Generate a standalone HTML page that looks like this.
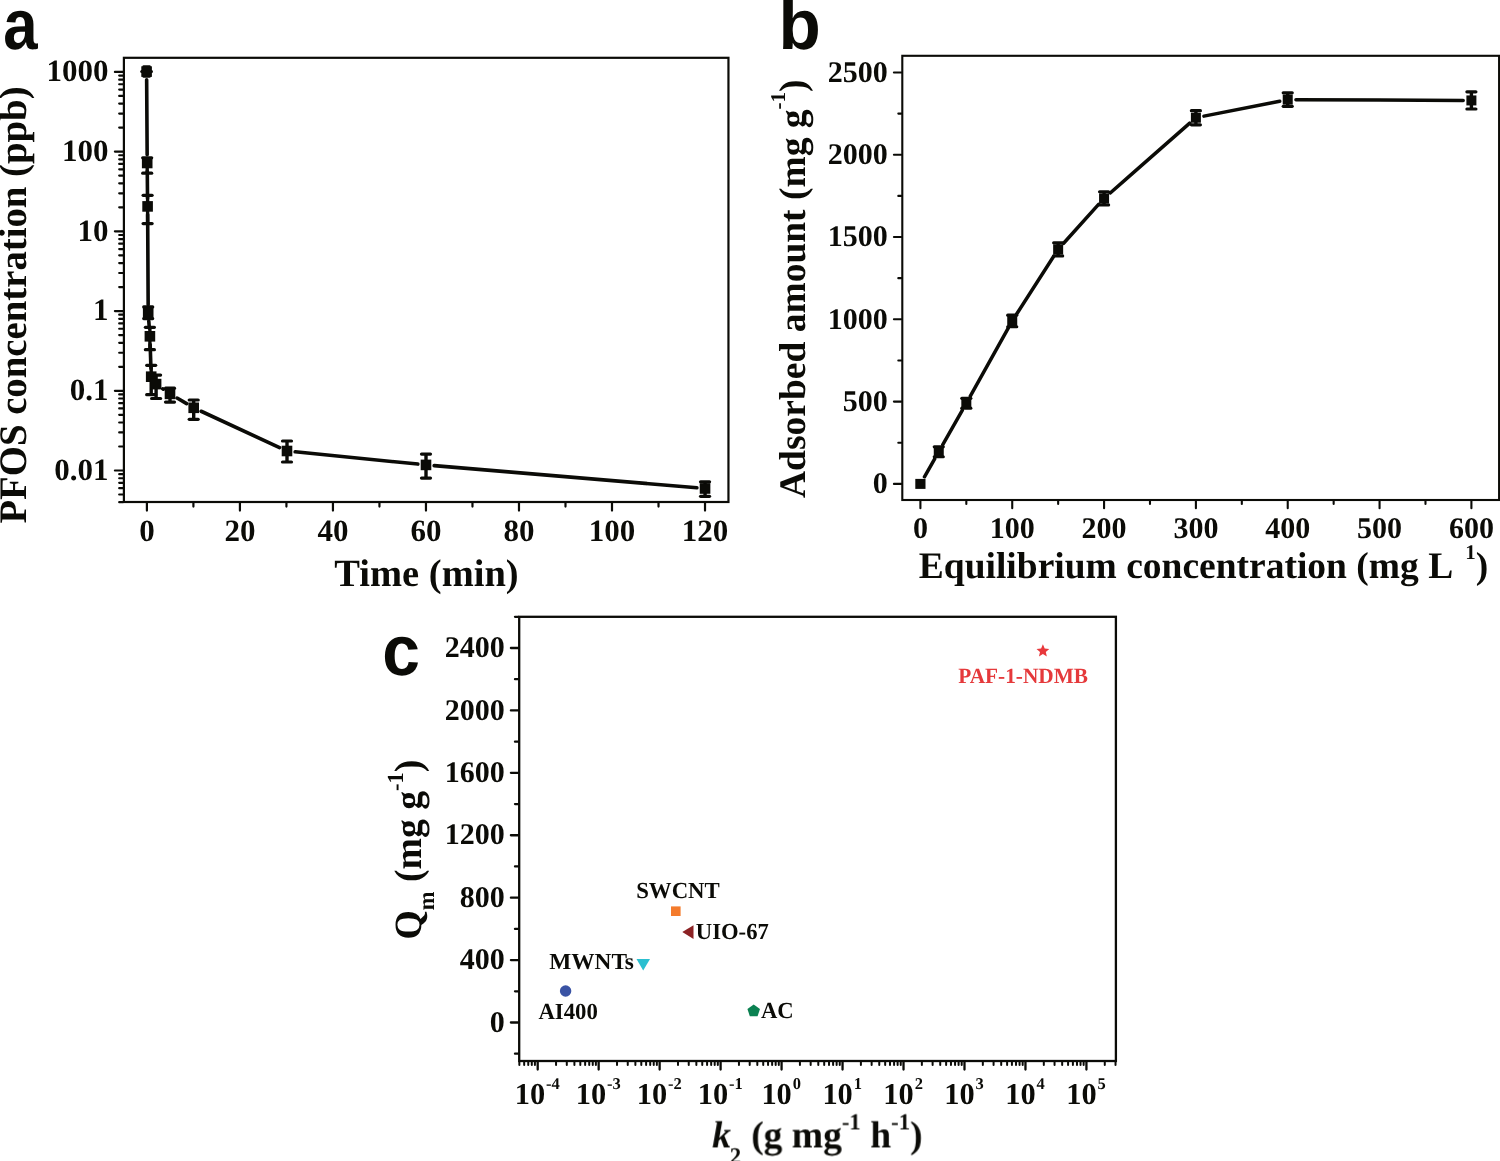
<!DOCTYPE html>
<html lang="en"><head><meta charset="utf-8"><title>PFOS adsorption figure</title>
<style>html,body{margin:0;padding:0;background:#fff}svg{display:block;will-change:transform;text-rendering:geometricPrecision}text{white-space:pre}</style>
</head><body>
<svg width="1500" height="1161" viewBox="0 0 1500 1161">
<defs><filter id="gray-aa" x="0" y="0" width="1500" height="1161" filterUnits="userSpaceOnUse" color-interpolation-filters="sRGB"><feOffset dx="0" dy="0"/></filter></defs>
<rect width="1500" height="1161" fill="#ffffff"/>
<g filter="url(#gray-aa)">
<g id="panel-a">
<rect x="123.9" y="57.8" width="604.55" height="444.2" fill="none" stroke="#0b0b07" stroke-width="2.2"/>
<line x1="119.2" y1="502.22" x2="122.9" y2="502.22" stroke="#0b0b07" stroke-width="2.2" stroke-linecap="round"/>
<line x1="119.2" y1="494.5" x2="122.9" y2="494.5" stroke="#0b0b07" stroke-width="2.2" stroke-linecap="round"/>
<line x1="119.2" y1="488.19" x2="122.9" y2="488.19" stroke="#0b0b07" stroke-width="2.2" stroke-linecap="round"/>
<line x1="119.2" y1="482.85" x2="122.9" y2="482.85" stroke="#0b0b07" stroke-width="2.2" stroke-linecap="round"/>
<line x1="119.2" y1="478.23" x2="122.9" y2="478.23" stroke="#0b0b07" stroke-width="2.2" stroke-linecap="round"/>
<line x1="119.2" y1="474.15" x2="122.9" y2="474.15" stroke="#0b0b07" stroke-width="2.2" stroke-linecap="round"/>
<line x1="114.9" y1="470.5" x2="122.9" y2="470.5" stroke="#0b0b07" stroke-width="2.2" stroke-linecap="round"/>
<line x1="119.2" y1="446.5" x2="122.9" y2="446.5" stroke="#0b0b07" stroke-width="2.2" stroke-linecap="round"/>
<line x1="119.2" y1="432.46" x2="122.9" y2="432.46" stroke="#0b0b07" stroke-width="2.2" stroke-linecap="round"/>
<line x1="119.2" y1="422.5" x2="122.9" y2="422.5" stroke="#0b0b07" stroke-width="2.2" stroke-linecap="round"/>
<line x1="119.2" y1="414.78" x2="122.9" y2="414.78" stroke="#0b0b07" stroke-width="2.2" stroke-linecap="round"/>
<line x1="119.2" y1="408.47" x2="122.9" y2="408.47" stroke="#0b0b07" stroke-width="2.2" stroke-linecap="round"/>
<line x1="119.2" y1="403.13" x2="122.9" y2="403.13" stroke="#0b0b07" stroke-width="2.2" stroke-linecap="round"/>
<line x1="119.2" y1="398.51" x2="122.9" y2="398.51" stroke="#0b0b07" stroke-width="2.2" stroke-linecap="round"/>
<line x1="119.2" y1="394.43" x2="122.9" y2="394.43" stroke="#0b0b07" stroke-width="2.2" stroke-linecap="round"/>
<line x1="114.9" y1="390.78" x2="122.9" y2="390.78" stroke="#0b0b07" stroke-width="2.2" stroke-linecap="round"/>
<line x1="119.2" y1="366.78" x2="122.9" y2="366.78" stroke="#0b0b07" stroke-width="2.2" stroke-linecap="round"/>
<line x1="119.2" y1="352.74" x2="122.9" y2="352.74" stroke="#0b0b07" stroke-width="2.2" stroke-linecap="round"/>
<line x1="119.2" y1="342.78" x2="122.9" y2="342.78" stroke="#0b0b07" stroke-width="2.2" stroke-linecap="round"/>
<line x1="119.2" y1="335.06" x2="122.9" y2="335.06" stroke="#0b0b07" stroke-width="2.2" stroke-linecap="round"/>
<line x1="119.2" y1="328.75" x2="122.9" y2="328.75" stroke="#0b0b07" stroke-width="2.2" stroke-linecap="round"/>
<line x1="119.2" y1="323.41" x2="122.9" y2="323.41" stroke="#0b0b07" stroke-width="2.2" stroke-linecap="round"/>
<line x1="119.2" y1="318.79" x2="122.9" y2="318.79" stroke="#0b0b07" stroke-width="2.2" stroke-linecap="round"/>
<line x1="119.2" y1="314.71" x2="122.9" y2="314.71" stroke="#0b0b07" stroke-width="2.2" stroke-linecap="round"/>
<line x1="114.9" y1="311.06" x2="122.9" y2="311.06" stroke="#0b0b07" stroke-width="2.2" stroke-linecap="round"/>
<line x1="119.2" y1="287.06" x2="122.9" y2="287.06" stroke="#0b0b07" stroke-width="2.2" stroke-linecap="round"/>
<line x1="119.2" y1="273.02" x2="122.9" y2="273.02" stroke="#0b0b07" stroke-width="2.2" stroke-linecap="round"/>
<line x1="119.2" y1="263.06" x2="122.9" y2="263.06" stroke="#0b0b07" stroke-width="2.2" stroke-linecap="round"/>
<line x1="119.2" y1="255.34" x2="122.9" y2="255.34" stroke="#0b0b07" stroke-width="2.2" stroke-linecap="round"/>
<line x1="119.2" y1="249.03" x2="122.9" y2="249.03" stroke="#0b0b07" stroke-width="2.2" stroke-linecap="round"/>
<line x1="119.2" y1="243.69" x2="122.9" y2="243.69" stroke="#0b0b07" stroke-width="2.2" stroke-linecap="round"/>
<line x1="119.2" y1="239.07" x2="122.9" y2="239.07" stroke="#0b0b07" stroke-width="2.2" stroke-linecap="round"/>
<line x1="119.2" y1="234.99" x2="122.9" y2="234.99" stroke="#0b0b07" stroke-width="2.2" stroke-linecap="round"/>
<line x1="114.9" y1="231.34" x2="122.9" y2="231.34" stroke="#0b0b07" stroke-width="2.2" stroke-linecap="round"/>
<line x1="119.2" y1="207.34" x2="122.9" y2="207.34" stroke="#0b0b07" stroke-width="2.2" stroke-linecap="round"/>
<line x1="119.2" y1="193.3" x2="122.9" y2="193.3" stroke="#0b0b07" stroke-width="2.2" stroke-linecap="round"/>
<line x1="119.2" y1="183.34" x2="122.9" y2="183.34" stroke="#0b0b07" stroke-width="2.2" stroke-linecap="round"/>
<line x1="119.2" y1="175.62" x2="122.9" y2="175.62" stroke="#0b0b07" stroke-width="2.2" stroke-linecap="round"/>
<line x1="119.2" y1="169.31" x2="122.9" y2="169.31" stroke="#0b0b07" stroke-width="2.2" stroke-linecap="round"/>
<line x1="119.2" y1="163.97" x2="122.9" y2="163.97" stroke="#0b0b07" stroke-width="2.2" stroke-linecap="round"/>
<line x1="119.2" y1="159.35" x2="122.9" y2="159.35" stroke="#0b0b07" stroke-width="2.2" stroke-linecap="round"/>
<line x1="119.2" y1="155.27" x2="122.9" y2="155.27" stroke="#0b0b07" stroke-width="2.2" stroke-linecap="round"/>
<line x1="114.9" y1="151.62" x2="122.9" y2="151.62" stroke="#0b0b07" stroke-width="2.2" stroke-linecap="round"/>
<line x1="119.2" y1="127.62" x2="122.9" y2="127.62" stroke="#0b0b07" stroke-width="2.2" stroke-linecap="round"/>
<line x1="119.2" y1="113.58" x2="122.9" y2="113.58" stroke="#0b0b07" stroke-width="2.2" stroke-linecap="round"/>
<line x1="119.2" y1="103.62" x2="122.9" y2="103.62" stroke="#0b0b07" stroke-width="2.2" stroke-linecap="round"/>
<line x1="119.2" y1="95.9" x2="122.9" y2="95.9" stroke="#0b0b07" stroke-width="2.2" stroke-linecap="round"/>
<line x1="119.2" y1="89.59" x2="122.9" y2="89.59" stroke="#0b0b07" stroke-width="2.2" stroke-linecap="round"/>
<line x1="119.2" y1="84.25" x2="122.9" y2="84.25" stroke="#0b0b07" stroke-width="2.2" stroke-linecap="round"/>
<line x1="119.2" y1="79.63" x2="122.9" y2="79.63" stroke="#0b0b07" stroke-width="2.2" stroke-linecap="round"/>
<line x1="119.2" y1="75.55" x2="122.9" y2="75.55" stroke="#0b0b07" stroke-width="2.2" stroke-linecap="round"/>
<line x1="114.9" y1="71.9" x2="122.9" y2="71.9" stroke="#0b0b07" stroke-width="2.2" stroke-linecap="round"/>
<text transform="translate(108.5 81.2) scale(1.0000 1)" font-family='"Liberation Serif","DejaVu Serif",serif' font-size="31" font-weight="bold" text-anchor="end" fill="#0b0b07">1000</text>
<text transform="translate(108.5 160.92) scale(1.0000 1)" font-family='"Liberation Serif","DejaVu Serif",serif' font-size="31" font-weight="bold" text-anchor="end" fill="#0b0b07">100</text>
<text transform="translate(108.5 240.64) scale(1.0000 1)" font-family='"Liberation Serif","DejaVu Serif",serif' font-size="31" font-weight="bold" text-anchor="end" fill="#0b0b07">10</text>
<text transform="translate(108.5 320.36) scale(1.0000 1)" font-family='"Liberation Serif","DejaVu Serif",serif' font-size="31" font-weight="bold" text-anchor="end" fill="#0b0b07">1</text>
<text transform="translate(108.5 400.08) scale(1.0000 1)" font-family='"Liberation Serif","DejaVu Serif",serif' font-size="31" font-weight="bold" text-anchor="end" fill="#0b0b07">0.1</text>
<text transform="translate(108.5 479.8) scale(1.0000 1)" font-family='"Liberation Serif","DejaVu Serif",serif' font-size="31" font-weight="bold" text-anchor="end" fill="#0b0b07">0.01</text>
<line x1="146.9" y1="503" x2="146.9" y2="510.6" stroke="#0b0b07" stroke-width="2.2" stroke-linecap="round"/>
<text transform="translate(146.9 541.2) scale(1.0000 1)" font-family='"Liberation Serif","DejaVu Serif",serif' font-size="31" font-weight="bold" text-anchor="middle" fill="#0b0b07">0</text>
<line x1="193.41" y1="503" x2="193.41" y2="506.6" stroke="#0b0b07" stroke-width="2.2" stroke-linecap="round"/>
<line x1="239.92" y1="503" x2="239.92" y2="510.6" stroke="#0b0b07" stroke-width="2.2" stroke-linecap="round"/>
<text transform="translate(239.92 541.2) scale(1.0000 1)" font-family='"Liberation Serif","DejaVu Serif",serif' font-size="31" font-weight="bold" text-anchor="middle" fill="#0b0b07">20</text>
<line x1="286.43" y1="503" x2="286.43" y2="506.6" stroke="#0b0b07" stroke-width="2.2" stroke-linecap="round"/>
<line x1="332.94" y1="503" x2="332.94" y2="510.6" stroke="#0b0b07" stroke-width="2.2" stroke-linecap="round"/>
<text transform="translate(332.94 541.2) scale(1.0000 1)" font-family='"Liberation Serif","DejaVu Serif",serif' font-size="31" font-weight="bold" text-anchor="middle" fill="#0b0b07">40</text>
<line x1="379.45" y1="503" x2="379.45" y2="506.6" stroke="#0b0b07" stroke-width="2.2" stroke-linecap="round"/>
<line x1="425.96" y1="503" x2="425.96" y2="510.6" stroke="#0b0b07" stroke-width="2.2" stroke-linecap="round"/>
<text transform="translate(425.96 541.2) scale(1.0000 1)" font-family='"Liberation Serif","DejaVu Serif",serif' font-size="31" font-weight="bold" text-anchor="middle" fill="#0b0b07">60</text>
<line x1="472.47" y1="503" x2="472.47" y2="506.6" stroke="#0b0b07" stroke-width="2.2" stroke-linecap="round"/>
<line x1="518.98" y1="503" x2="518.98" y2="510.6" stroke="#0b0b07" stroke-width="2.2" stroke-linecap="round"/>
<text transform="translate(518.98 541.2) scale(1.0000 1)" font-family='"Liberation Serif","DejaVu Serif",serif' font-size="31" font-weight="bold" text-anchor="middle" fill="#0b0b07">80</text>
<line x1="565.49" y1="503" x2="565.49" y2="506.6" stroke="#0b0b07" stroke-width="2.2" stroke-linecap="round"/>
<line x1="612" y1="503" x2="612" y2="510.6" stroke="#0b0b07" stroke-width="2.2" stroke-linecap="round"/>
<text transform="translate(612 541.2) scale(1.0000 1)" font-family='"Liberation Serif","DejaVu Serif",serif' font-size="31" font-weight="bold" text-anchor="middle" fill="#0b0b07">100</text>
<line x1="658.51" y1="503" x2="658.51" y2="506.6" stroke="#0b0b07" stroke-width="2.2" stroke-linecap="round"/>
<line x1="705.02" y1="503" x2="705.02" y2="510.6" stroke="#0b0b07" stroke-width="2.2" stroke-linecap="round"/>
<text transform="translate(705.02 541.2) scale(1.0000 1)" font-family='"Liberation Serif","DejaVu Serif",serif' font-size="31" font-weight="bold" text-anchor="middle" fill="#0b0b07">120</text>
<text transform="translate(426.5 586) scale(1.0000 1)" font-family='"Liberation Serif","DejaVu Serif",serif' font-size="38.5" font-weight="bold" text-anchor="middle" fill="#0b0b07">Time (min)</text>
<text transform="translate(26.4 305) rotate(-90) scale(0.9940 1)" font-family='"Liberation Serif","DejaVu Serif",serif' font-size="39" font-weight="bold" text-anchor="middle" fill="#0b0b07">PFOS concentration (ppb)</text>
<path fill="none" stroke="#0b0b07" stroke-width="3.6" stroke-linecap="round" d="M146.65 79.8L147.15 154.8M147.28 171.2L147.52 198.2M147.65 214.6L148.15 304.7M148.79 321.08L149.31 328.12M150.16 344.5L150.94 368.5M162.8 388.83L163.3 389.17M177.07 398.05L186.63 403.65M201.14 411.25L279.56 447.55M295.16 451.82L417.84 464.08M434.17 465.59L696.88 487.81"/>
<line x1="146.6" y1="66.4" x2="146.6" y2="76.6" stroke="#0b0b07" stroke-width="3.2" stroke-linecap="butt"/>
<line x1="143.6" y1="66.4" x2="149.6" y2="66.4" stroke="#0b0b07" stroke-width="2.4" stroke-linecap="round"/>
<line x1="143.6" y1="76.6" x2="149.6" y2="76.6" stroke="#0b0b07" stroke-width="2.4" stroke-linecap="round"/>
<rect x="141.3" y="66.3" width="10.6" height="10.6" fill="#0b0b07"/>
<line x1="141.7" y1="71.6" x2="151.5" y2="71.6" stroke="#0b0b07" stroke-width="3" stroke-linecap="round"/>
<line x1="147.2" y1="157.8" x2="147.2" y2="173.2" stroke="#0b0b07" stroke-width="3.4" stroke-linecap="butt"/>
<line x1="142.7" y1="157.8" x2="151.7" y2="157.8" stroke="#0b0b07" stroke-width="3.2" stroke-linecap="round"/>
<line x1="142.7" y1="173.2" x2="151.7" y2="173.2" stroke="#0b0b07" stroke-width="3.2" stroke-linecap="round"/>
<rect x="141.9" y="157.7" width="10.6" height="10.6" fill="#0b0b07"/>
<line x1="147.6" y1="195.3" x2="147.6" y2="223.6" stroke="#0b0b07" stroke-width="3.4" stroke-linecap="butt"/>
<line x1="143.1" y1="195.3" x2="152.1" y2="195.3" stroke="#0b0b07" stroke-width="3.2" stroke-linecap="round"/>
<line x1="143.1" y1="223.6" x2="152.1" y2="223.6" stroke="#0b0b07" stroke-width="3.2" stroke-linecap="round"/>
<rect x="142.3" y="201.1" width="10.6" height="10.6" fill="#0b0b07"/>
<line x1="148.2" y1="306.9" x2="148.2" y2="318.6" stroke="#0b0b07" stroke-width="3.4" stroke-linecap="butt"/>
<line x1="143.7" y1="306.9" x2="152.7" y2="306.9" stroke="#0b0b07" stroke-width="3.2" stroke-linecap="round"/>
<line x1="143.7" y1="318.6" x2="152.7" y2="318.6" stroke="#0b0b07" stroke-width="3.2" stroke-linecap="round"/>
<rect x="142.9" y="307.6" width="10.6" height="10.6" fill="#0b0b07"/>
<line x1="149.9" y1="327.3" x2="149.9" y2="349.7" stroke="#0b0b07" stroke-width="3.4" stroke-linecap="butt"/>
<line x1="145.4" y1="327.3" x2="154.4" y2="327.3" stroke="#0b0b07" stroke-width="3.2" stroke-linecap="round"/>
<line x1="145.4" y1="349.7" x2="154.4" y2="349.7" stroke="#0b0b07" stroke-width="3.2" stroke-linecap="round"/>
<rect x="144.6" y="331" width="10.6" height="10.6" fill="#0b0b07"/>
<line x1="151.2" y1="365.3" x2="151.2" y2="394.7" stroke="#0b0b07" stroke-width="3.4" stroke-linecap="butt"/>
<line x1="146.7" y1="365.3" x2="155.7" y2="365.3" stroke="#0b0b07" stroke-width="3.2" stroke-linecap="round"/>
<line x1="146.7" y1="394.7" x2="155.7" y2="394.7" stroke="#0b0b07" stroke-width="3.2" stroke-linecap="round"/>
<rect x="145.9" y="371.4" width="10.6" height="10.6" fill="#0b0b07"/>
<line x1="156.1" y1="375.1" x2="156.1" y2="398.5" stroke="#0b0b07" stroke-width="3.4" stroke-linecap="butt"/>
<line x1="151.6" y1="375.1" x2="160.6" y2="375.1" stroke="#0b0b07" stroke-width="3.2" stroke-linecap="round"/>
<line x1="151.6" y1="398.5" x2="160.6" y2="398.5" stroke="#0b0b07" stroke-width="3.2" stroke-linecap="round"/>
<rect x="150.8" y="378.8" width="10.6" height="10.6" fill="#0b0b07"/>
<line x1="170" y1="388.2" x2="170" y2="402.1" stroke="#0b0b07" stroke-width="3.4" stroke-linecap="butt"/>
<line x1="165.5" y1="388.2" x2="174.5" y2="388.2" stroke="#0b0b07" stroke-width="3.2" stroke-linecap="round"/>
<line x1="165.5" y1="402.1" x2="174.5" y2="402.1" stroke="#0b0b07" stroke-width="3.2" stroke-linecap="round"/>
<rect x="164.7" y="388.6" width="10.6" height="10.6" fill="#0b0b07"/>
<line x1="193.7" y1="400" x2="193.7" y2="419.3" stroke="#0b0b07" stroke-width="3.4" stroke-linecap="butt"/>
<line x1="189.2" y1="400" x2="198.2" y2="400" stroke="#0b0b07" stroke-width="3.2" stroke-linecap="round"/>
<line x1="189.2" y1="419.3" x2="198.2" y2="419.3" stroke="#0b0b07" stroke-width="3.2" stroke-linecap="round"/>
<rect x="188.4" y="402.5" width="10.6" height="10.6" fill="#0b0b07"/>
<line x1="287" y1="441" x2="287" y2="462" stroke="#0b0b07" stroke-width="3.4" stroke-linecap="butt"/>
<line x1="282.5" y1="441" x2="291.5" y2="441" stroke="#0b0b07" stroke-width="3.2" stroke-linecap="round"/>
<line x1="282.5" y1="462" x2="291.5" y2="462" stroke="#0b0b07" stroke-width="3.2" stroke-linecap="round"/>
<rect x="281.7" y="445.7" width="10.6" height="10.6" fill="#0b0b07"/>
<line x1="426" y1="454.1" x2="426" y2="478.1" stroke="#0b0b07" stroke-width="3.4" stroke-linecap="butt"/>
<line x1="421.5" y1="454.1" x2="430.5" y2="454.1" stroke="#0b0b07" stroke-width="3.2" stroke-linecap="round"/>
<line x1="421.5" y1="478.1" x2="430.5" y2="478.1" stroke="#0b0b07" stroke-width="3.2" stroke-linecap="round"/>
<rect x="420.7" y="459.6" width="10.6" height="10.6" fill="#0b0b07"/>
<line x1="705.05" y1="481.8" x2="705.05" y2="496.3" stroke="#0b0b07" stroke-width="3.4" stroke-linecap="butt"/>
<line x1="700.55" y1="481.8" x2="709.55" y2="481.8" stroke="#0b0b07" stroke-width="3.2" stroke-linecap="round"/>
<line x1="700.55" y1="496.3" x2="709.55" y2="496.3" stroke="#0b0b07" stroke-width="3.2" stroke-linecap="round"/>
<rect x="699.75" y="483.2" width="10.6" height="10.6" fill="#0b0b07"/>
<text transform="translate(3.2 49) scale(0.8700 1)" font-family='"Liberation Sans","DejaVu Sans",sans-serif' font-size="71" font-weight="bold" text-anchor="start" fill="#0b0b07">a</text>
</g>
<g id="panel-b">
<rect x="902.3" y="55.8" width="596.8" height="444.2" fill="none" stroke="#0b0b07" stroke-width="2.1"/>
<line x1="893.9" y1="483.9" x2="901.3" y2="483.9" stroke="#0b0b07" stroke-width="2.1" stroke-linecap="round"/>
<text transform="translate(887.8 493.1) scale(1.0000 1)" font-family='"Liberation Serif","DejaVu Serif",serif' font-size="30" font-weight="bold" text-anchor="end" fill="#0b0b07">0</text>
<line x1="898.3" y1="442.75" x2="901.3" y2="442.75" stroke="#0b0b07" stroke-width="2.1" stroke-linecap="round"/>
<line x1="893.9" y1="401.61" x2="901.3" y2="401.61" stroke="#0b0b07" stroke-width="2.1" stroke-linecap="round"/>
<text transform="translate(887.8 410.81) scale(1.0000 1)" font-family='"Liberation Serif","DejaVu Serif",serif' font-size="30" font-weight="bold" text-anchor="end" fill="#0b0b07">500</text>
<line x1="898.3" y1="360.46" x2="901.3" y2="360.46" stroke="#0b0b07" stroke-width="2.1" stroke-linecap="round"/>
<line x1="893.9" y1="319.32" x2="901.3" y2="319.32" stroke="#0b0b07" stroke-width="2.1" stroke-linecap="round"/>
<text transform="translate(887.8 328.52) scale(1.0000 1)" font-family='"Liberation Serif","DejaVu Serif",serif' font-size="30" font-weight="bold" text-anchor="end" fill="#0b0b07">1000</text>
<line x1="898.3" y1="278.17" x2="901.3" y2="278.17" stroke="#0b0b07" stroke-width="2.1" stroke-linecap="round"/>
<line x1="893.9" y1="237.03" x2="901.3" y2="237.03" stroke="#0b0b07" stroke-width="2.1" stroke-linecap="round"/>
<text transform="translate(887.8 246.23) scale(1.0000 1)" font-family='"Liberation Serif","DejaVu Serif",serif' font-size="30" font-weight="bold" text-anchor="end" fill="#0b0b07">1500</text>
<line x1="898.3" y1="195.88" x2="901.3" y2="195.88" stroke="#0b0b07" stroke-width="2.1" stroke-linecap="round"/>
<line x1="893.9" y1="154.74" x2="901.3" y2="154.74" stroke="#0b0b07" stroke-width="2.1" stroke-linecap="round"/>
<text transform="translate(887.8 163.94) scale(1.0000 1)" font-family='"Liberation Serif","DejaVu Serif",serif' font-size="30" font-weight="bold" text-anchor="end" fill="#0b0b07">2000</text>
<line x1="898.3" y1="113.59" x2="901.3" y2="113.59" stroke="#0b0b07" stroke-width="2.1" stroke-linecap="round"/>
<line x1="893.9" y1="72.45" x2="901.3" y2="72.45" stroke="#0b0b07" stroke-width="2.1" stroke-linecap="round"/>
<text transform="translate(887.8 81.65) scale(1.0000 1)" font-family='"Liberation Serif","DejaVu Serif",serif' font-size="30" font-weight="bold" text-anchor="end" fill="#0b0b07">2500</text>
<line x1="920.4" y1="501" x2="920.4" y2="508.3" stroke="#0b0b07" stroke-width="2.1" stroke-linecap="round"/>
<text transform="translate(920.4 537.8) scale(1.0000 1)" font-family='"Liberation Serif","DejaVu Serif",serif' font-size="30" font-weight="bold" text-anchor="middle" fill="#0b0b07">0</text>
<line x1="966.32" y1="501" x2="966.32" y2="504" stroke="#0b0b07" stroke-width="2.1" stroke-linecap="round"/>
<line x1="1012.23" y1="501" x2="1012.23" y2="508.3" stroke="#0b0b07" stroke-width="2.1" stroke-linecap="round"/>
<text transform="translate(1012.23 537.8) scale(1.0000 1)" font-family='"Liberation Serif","DejaVu Serif",serif' font-size="30" font-weight="bold" text-anchor="middle" fill="#0b0b07">100</text>
<line x1="1058.15" y1="501" x2="1058.15" y2="504" stroke="#0b0b07" stroke-width="2.1" stroke-linecap="round"/>
<line x1="1104.07" y1="501" x2="1104.07" y2="508.3" stroke="#0b0b07" stroke-width="2.1" stroke-linecap="round"/>
<text transform="translate(1104.07 537.8) scale(1.0000 1)" font-family='"Liberation Serif","DejaVu Serif",serif' font-size="30" font-weight="bold" text-anchor="middle" fill="#0b0b07">200</text>
<line x1="1149.98" y1="501" x2="1149.98" y2="504" stroke="#0b0b07" stroke-width="2.1" stroke-linecap="round"/>
<line x1="1195.9" y1="501" x2="1195.9" y2="508.3" stroke="#0b0b07" stroke-width="2.1" stroke-linecap="round"/>
<text transform="translate(1195.9 537.8) scale(1.0000 1)" font-family='"Liberation Serif","DejaVu Serif",serif' font-size="30" font-weight="bold" text-anchor="middle" fill="#0b0b07">300</text>
<line x1="1241.82" y1="501" x2="1241.82" y2="504" stroke="#0b0b07" stroke-width="2.1" stroke-linecap="round"/>
<line x1="1287.73" y1="501" x2="1287.73" y2="508.3" stroke="#0b0b07" stroke-width="2.1" stroke-linecap="round"/>
<text transform="translate(1287.73 537.8) scale(1.0000 1)" font-family='"Liberation Serif","DejaVu Serif",serif' font-size="30" font-weight="bold" text-anchor="middle" fill="#0b0b07">400</text>
<line x1="1333.65" y1="501" x2="1333.65" y2="504" stroke="#0b0b07" stroke-width="2.1" stroke-linecap="round"/>
<line x1="1379.57" y1="501" x2="1379.57" y2="508.3" stroke="#0b0b07" stroke-width="2.1" stroke-linecap="round"/>
<text transform="translate(1379.57 537.8) scale(1.0000 1)" font-family='"Liberation Serif","DejaVu Serif",serif' font-size="30" font-weight="bold" text-anchor="middle" fill="#0b0b07">500</text>
<line x1="1425.48" y1="501" x2="1425.48" y2="504" stroke="#0b0b07" stroke-width="2.1" stroke-linecap="round"/>
<line x1="1471.4" y1="501" x2="1471.4" y2="508.3" stroke="#0b0b07" stroke-width="2.1" stroke-linecap="round"/>
<text transform="translate(1471.4 537.8) scale(1.0000 1)" font-family='"Liberation Serif","DejaVu Serif",serif' font-size="30" font-weight="bold" text-anchor="middle" fill="#0b0b07">600</text>
<text transform="translate(918.8 578) scale(1.0000 1)" font-family='"Liberation Serif","DejaVu Serif",serif' font-size="37.5" font-weight="bold" text-anchor="start" fill="#0b0b07">Equilibrium concentration (mg L<tspan font-size="21" dy="-19" dx="1.5">&#160;&#160;1</tspan><tspan dy="19">)</tspan></text>
<text transform="translate(805.3 498) rotate(-90) scale(1.0000 1)" font-family='"Liberation Serif","DejaVu Serif",serif' font-size="37.5" font-weight="bold" text-anchor="start" fill="#0b0b07">Adsorbed amount (mg g<tspan font-size="21" dy="-20">-1</tspan><tspan dy="20">)</tspan></text>
<path fill="none" stroke="#0b0b07" stroke-width="3.5" stroke-linecap="round" d="M924.47 476.78L934.69 458.92M942.81 444.68L962.27 410.39M970.31 396.1L1008.24 328.13M1016.66 314.06L1053.72 256.28M1063.63 243.28L1098.58 204.45M1110.23 192.94L1189.74 123.12M1203.94 116.12L1279.69 101.19M1295.93 99.64L1463.2 100.39"/>
<rect x="915.3" y="478.9" width="10.2" height="10" fill="#0b0b07"/>
<line x1="938.77" y1="446.87" x2="938.77" y2="456.74" stroke="#0b0b07" stroke-width="3.4" stroke-linecap="butt"/>
<line x1="934.27" y1="446.87" x2="943.27" y2="446.87" stroke="#0b0b07" stroke-width="3.2" stroke-linecap="round"/>
<line x1="934.27" y1="456.74" x2="943.27" y2="456.74" stroke="#0b0b07" stroke-width="3.2" stroke-linecap="round"/>
<rect x="933.77" y="446.81" width="10" height="10" fill="#0b0b07"/>
<line x1="966.32" y1="398.32" x2="966.32" y2="408.19" stroke="#0b0b07" stroke-width="3.4" stroke-linecap="butt"/>
<line x1="961.82" y1="398.32" x2="970.82" y2="398.32" stroke="#0b0b07" stroke-width="3.2" stroke-linecap="round"/>
<line x1="961.82" y1="408.19" x2="970.82" y2="408.19" stroke="#0b0b07" stroke-width="3.2" stroke-linecap="round"/>
<rect x="961.32" y="398.26" width="10" height="10" fill="#0b0b07"/>
<line x1="1012.23" y1="315.21" x2="1012.23" y2="326.73" stroke="#0b0b07" stroke-width="3.4" stroke-linecap="butt"/>
<line x1="1007.73" y1="315.21" x2="1016.73" y2="315.21" stroke="#0b0b07" stroke-width="3.2" stroke-linecap="round"/>
<line x1="1007.73" y1="326.73" x2="1016.73" y2="326.73" stroke="#0b0b07" stroke-width="3.2" stroke-linecap="round"/>
<rect x="1007.23" y="315.97" width="10" height="10" fill="#0b0b07"/>
<line x1="1058.15" y1="242.79" x2="1058.15" y2="255.96" stroke="#0b0b07" stroke-width="3.4" stroke-linecap="butt"/>
<line x1="1053.65" y1="242.79" x2="1062.65" y2="242.79" stroke="#0b0b07" stroke-width="3.2" stroke-linecap="round"/>
<line x1="1053.65" y1="255.96" x2="1062.65" y2="255.96" stroke="#0b0b07" stroke-width="3.2" stroke-linecap="round"/>
<rect x="1053.15" y="244.37" width="10" height="10" fill="#0b0b07"/>
<line x1="1104.07" y1="191.77" x2="1104.07" y2="204.94" stroke="#0b0b07" stroke-width="3.4" stroke-linecap="butt"/>
<line x1="1099.57" y1="191.77" x2="1108.57" y2="191.77" stroke="#0b0b07" stroke-width="3.2" stroke-linecap="round"/>
<line x1="1099.57" y1="204.94" x2="1108.57" y2="204.94" stroke="#0b0b07" stroke-width="3.2" stroke-linecap="round"/>
<rect x="1099.07" y="193.35" width="10" height="10" fill="#0b0b07"/>
<line x1="1195.9" y1="110.63" x2="1195.9" y2="124.79" stroke="#0b0b07" stroke-width="3.4" stroke-linecap="butt"/>
<line x1="1191.4" y1="110.63" x2="1200.4" y2="110.63" stroke="#0b0b07" stroke-width="3.2" stroke-linecap="round"/>
<line x1="1191.4" y1="124.79" x2="1200.4" y2="124.79" stroke="#0b0b07" stroke-width="3.2" stroke-linecap="round"/>
<rect x="1190.9" y="112.71" width="10" height="10" fill="#0b0b07"/>
<line x1="1287.73" y1="92.86" x2="1287.73" y2="106.35" stroke="#0b0b07" stroke-width="3.4" stroke-linecap="butt"/>
<line x1="1283.23" y1="92.86" x2="1292.23" y2="92.86" stroke="#0b0b07" stroke-width="3.2" stroke-linecap="round"/>
<line x1="1283.23" y1="106.35" x2="1292.23" y2="106.35" stroke="#0b0b07" stroke-width="3.2" stroke-linecap="round"/>
<rect x="1282.73" y="94.61" width="10" height="10" fill="#0b0b07"/>
<line x1="1471.4" y1="91.87" x2="1471.4" y2="108.99" stroke="#0b0b07" stroke-width="3.4" stroke-linecap="butt"/>
<line x1="1466.9" y1="91.87" x2="1475.9" y2="91.87" stroke="#0b0b07" stroke-width="3.2" stroke-linecap="round"/>
<line x1="1466.9" y1="108.99" x2="1475.9" y2="108.99" stroke="#0b0b07" stroke-width="3.2" stroke-linecap="round"/>
<rect x="1466.4" y="95.43" width="10" height="10" fill="#0b0b07"/>
<text transform="translate(778.6 49) scale(0.9750 1)" font-family='"Liberation Sans","DejaVu Sans",sans-serif' font-size="71" font-weight="bold" text-anchor="start" fill="#0b0b07">b</text>
</g>
<g id="panel-c">
<rect x="519.2" y="616.8" width="596.7" height="444.2" fill="none" stroke="#0b0b07" stroke-width="2.3"/>
<line x1="515" y1="1053.71" x2="518.2" y2="1053.71" stroke="#0b0b07" stroke-width="2.3" stroke-linecap="round"/>
<line x1="510.9" y1="1022.5" x2="518.2" y2="1022.5" stroke="#0b0b07" stroke-width="2.3" stroke-linecap="round"/>
<text transform="translate(504.7 1031.7) scale(1.0000 1)" font-family='"Liberation Serif","DejaVu Serif",serif' font-size="30" font-weight="bold" text-anchor="end" fill="#0b0b07">0</text>
<line x1="515" y1="991.29" x2="518.2" y2="991.29" stroke="#0b0b07" stroke-width="2.3" stroke-linecap="round"/>
<line x1="510.9" y1="960.08" x2="518.2" y2="960.08" stroke="#0b0b07" stroke-width="2.3" stroke-linecap="round"/>
<text transform="translate(504.7 969.28) scale(1.0000 1)" font-family='"Liberation Serif","DejaVu Serif",serif' font-size="30" font-weight="bold" text-anchor="end" fill="#0b0b07">400</text>
<line x1="515" y1="928.88" x2="518.2" y2="928.88" stroke="#0b0b07" stroke-width="2.3" stroke-linecap="round"/>
<line x1="510.9" y1="897.67" x2="518.2" y2="897.67" stroke="#0b0b07" stroke-width="2.3" stroke-linecap="round"/>
<text transform="translate(504.7 906.87) scale(1.0000 1)" font-family='"Liberation Serif","DejaVu Serif",serif' font-size="30" font-weight="bold" text-anchor="end" fill="#0b0b07">800</text>
<line x1="515" y1="866.46" x2="518.2" y2="866.46" stroke="#0b0b07" stroke-width="2.3" stroke-linecap="round"/>
<line x1="510.9" y1="835.25" x2="518.2" y2="835.25" stroke="#0b0b07" stroke-width="2.3" stroke-linecap="round"/>
<text transform="translate(504.7 844.45) scale(1.0000 1)" font-family='"Liberation Serif","DejaVu Serif",serif' font-size="30" font-weight="bold" text-anchor="end" fill="#0b0b07">1200</text>
<line x1="515" y1="804.04" x2="518.2" y2="804.04" stroke="#0b0b07" stroke-width="2.3" stroke-linecap="round"/>
<line x1="510.9" y1="772.84" x2="518.2" y2="772.84" stroke="#0b0b07" stroke-width="2.3" stroke-linecap="round"/>
<text transform="translate(504.7 782.04) scale(1.0000 1)" font-family='"Liberation Serif","DejaVu Serif",serif' font-size="30" font-weight="bold" text-anchor="end" fill="#0b0b07">1600</text>
<line x1="515" y1="741.63" x2="518.2" y2="741.63" stroke="#0b0b07" stroke-width="2.3" stroke-linecap="round"/>
<line x1="510.9" y1="710.42" x2="518.2" y2="710.42" stroke="#0b0b07" stroke-width="2.3" stroke-linecap="round"/>
<text transform="translate(504.7 719.62) scale(1.0000 1)" font-family='"Liberation Serif","DejaVu Serif",serif' font-size="30" font-weight="bold" text-anchor="end" fill="#0b0b07">2000</text>
<line x1="515" y1="679.21" x2="518.2" y2="679.21" stroke="#0b0b07" stroke-width="2.3" stroke-linecap="round"/>
<line x1="510.9" y1="648" x2="518.2" y2="648" stroke="#0b0b07" stroke-width="2.3" stroke-linecap="round"/>
<text transform="translate(504.7 657.2) scale(1.0000 1)" font-family='"Liberation Serif","DejaVu Serif",serif' font-size="30" font-weight="bold" text-anchor="end" fill="#0b0b07">2400</text>
<line x1="515" y1="616.8" x2="518.2" y2="616.8" stroke="#0b0b07" stroke-width="2.3" stroke-linecap="round"/>
<line x1="519.35" y1="1062" x2="519.35" y2="1064.9" stroke="#0b0b07" stroke-width="2" stroke-linecap="round"/>
<line x1="524.17" y1="1062" x2="524.17" y2="1064.9" stroke="#0b0b07" stroke-width="2" stroke-linecap="round"/>
<line x1="528.26" y1="1062" x2="528.26" y2="1064.9" stroke="#0b0b07" stroke-width="2" stroke-linecap="round"/>
<line x1="531.79" y1="1062" x2="531.79" y2="1064.9" stroke="#0b0b07" stroke-width="2" stroke-linecap="round"/>
<line x1="534.91" y1="1062" x2="534.91" y2="1064.9" stroke="#0b0b07" stroke-width="2" stroke-linecap="round"/>
<line x1="537.7" y1="1062" x2="537.7" y2="1069.6" stroke="#0b0b07" stroke-width="2.3" stroke-linecap="round"/>
<line x1="556.05" y1="1062" x2="556.05" y2="1064.9" stroke="#0b0b07" stroke-width="2" stroke-linecap="round"/>
<line x1="566.79" y1="1062" x2="566.79" y2="1064.9" stroke="#0b0b07" stroke-width="2" stroke-linecap="round"/>
<line x1="574.41" y1="1062" x2="574.41" y2="1064.9" stroke="#0b0b07" stroke-width="2" stroke-linecap="round"/>
<line x1="580.32" y1="1062" x2="580.32" y2="1064.9" stroke="#0b0b07" stroke-width="2" stroke-linecap="round"/>
<line x1="585.14" y1="1062" x2="585.14" y2="1064.9" stroke="#0b0b07" stroke-width="2" stroke-linecap="round"/>
<line x1="589.23" y1="1062" x2="589.23" y2="1064.9" stroke="#0b0b07" stroke-width="2" stroke-linecap="round"/>
<line x1="592.76" y1="1062" x2="592.76" y2="1064.9" stroke="#0b0b07" stroke-width="2" stroke-linecap="round"/>
<line x1="595.88" y1="1062" x2="595.88" y2="1064.9" stroke="#0b0b07" stroke-width="2" stroke-linecap="round"/>
<line x1="598.67" y1="1062" x2="598.67" y2="1069.6" stroke="#0b0b07" stroke-width="2.3" stroke-linecap="round"/>
<line x1="617.02" y1="1062" x2="617.02" y2="1064.9" stroke="#0b0b07" stroke-width="2" stroke-linecap="round"/>
<line x1="627.76" y1="1062" x2="627.76" y2="1064.9" stroke="#0b0b07" stroke-width="2" stroke-linecap="round"/>
<line x1="635.38" y1="1062" x2="635.38" y2="1064.9" stroke="#0b0b07" stroke-width="2" stroke-linecap="round"/>
<line x1="641.29" y1="1062" x2="641.29" y2="1064.9" stroke="#0b0b07" stroke-width="2" stroke-linecap="round"/>
<line x1="646.11" y1="1062" x2="646.11" y2="1064.9" stroke="#0b0b07" stroke-width="2" stroke-linecap="round"/>
<line x1="650.2" y1="1062" x2="650.2" y2="1064.9" stroke="#0b0b07" stroke-width="2" stroke-linecap="round"/>
<line x1="653.73" y1="1062" x2="653.73" y2="1064.9" stroke="#0b0b07" stroke-width="2" stroke-linecap="round"/>
<line x1="656.85" y1="1062" x2="656.85" y2="1064.9" stroke="#0b0b07" stroke-width="2" stroke-linecap="round"/>
<line x1="659.64" y1="1062" x2="659.64" y2="1069.6" stroke="#0b0b07" stroke-width="2.3" stroke-linecap="round"/>
<line x1="677.99" y1="1062" x2="677.99" y2="1064.9" stroke="#0b0b07" stroke-width="2" stroke-linecap="round"/>
<line x1="688.73" y1="1062" x2="688.73" y2="1064.9" stroke="#0b0b07" stroke-width="2" stroke-linecap="round"/>
<line x1="696.35" y1="1062" x2="696.35" y2="1064.9" stroke="#0b0b07" stroke-width="2" stroke-linecap="round"/>
<line x1="702.26" y1="1062" x2="702.26" y2="1064.9" stroke="#0b0b07" stroke-width="2" stroke-linecap="round"/>
<line x1="707.08" y1="1062" x2="707.08" y2="1064.9" stroke="#0b0b07" stroke-width="2" stroke-linecap="round"/>
<line x1="711.17" y1="1062" x2="711.17" y2="1064.9" stroke="#0b0b07" stroke-width="2" stroke-linecap="round"/>
<line x1="714.7" y1="1062" x2="714.7" y2="1064.9" stroke="#0b0b07" stroke-width="2" stroke-linecap="round"/>
<line x1="717.82" y1="1062" x2="717.82" y2="1064.9" stroke="#0b0b07" stroke-width="2" stroke-linecap="round"/>
<line x1="720.61" y1="1062" x2="720.61" y2="1069.6" stroke="#0b0b07" stroke-width="2.3" stroke-linecap="round"/>
<line x1="738.96" y1="1062" x2="738.96" y2="1064.9" stroke="#0b0b07" stroke-width="2" stroke-linecap="round"/>
<line x1="749.7" y1="1062" x2="749.7" y2="1064.9" stroke="#0b0b07" stroke-width="2" stroke-linecap="round"/>
<line x1="757.32" y1="1062" x2="757.32" y2="1064.9" stroke="#0b0b07" stroke-width="2" stroke-linecap="round"/>
<line x1="763.23" y1="1062" x2="763.23" y2="1064.9" stroke="#0b0b07" stroke-width="2" stroke-linecap="round"/>
<line x1="768.05" y1="1062" x2="768.05" y2="1064.9" stroke="#0b0b07" stroke-width="2" stroke-linecap="round"/>
<line x1="772.14" y1="1062" x2="772.14" y2="1064.9" stroke="#0b0b07" stroke-width="2" stroke-linecap="round"/>
<line x1="775.67" y1="1062" x2="775.67" y2="1064.9" stroke="#0b0b07" stroke-width="2" stroke-linecap="round"/>
<line x1="778.79" y1="1062" x2="778.79" y2="1064.9" stroke="#0b0b07" stroke-width="2" stroke-linecap="round"/>
<line x1="781.58" y1="1062" x2="781.58" y2="1069.6" stroke="#0b0b07" stroke-width="2.3" stroke-linecap="round"/>
<line x1="799.93" y1="1062" x2="799.93" y2="1064.9" stroke="#0b0b07" stroke-width="2" stroke-linecap="round"/>
<line x1="810.67" y1="1062" x2="810.67" y2="1064.9" stroke="#0b0b07" stroke-width="2" stroke-linecap="round"/>
<line x1="818.29" y1="1062" x2="818.29" y2="1064.9" stroke="#0b0b07" stroke-width="2" stroke-linecap="round"/>
<line x1="824.2" y1="1062" x2="824.2" y2="1064.9" stroke="#0b0b07" stroke-width="2" stroke-linecap="round"/>
<line x1="829.02" y1="1062" x2="829.02" y2="1064.9" stroke="#0b0b07" stroke-width="2" stroke-linecap="round"/>
<line x1="833.11" y1="1062" x2="833.11" y2="1064.9" stroke="#0b0b07" stroke-width="2" stroke-linecap="round"/>
<line x1="836.64" y1="1062" x2="836.64" y2="1064.9" stroke="#0b0b07" stroke-width="2" stroke-linecap="round"/>
<line x1="839.76" y1="1062" x2="839.76" y2="1064.9" stroke="#0b0b07" stroke-width="2" stroke-linecap="round"/>
<line x1="842.55" y1="1062" x2="842.55" y2="1069.6" stroke="#0b0b07" stroke-width="2.3" stroke-linecap="round"/>
<line x1="860.9" y1="1062" x2="860.9" y2="1064.9" stroke="#0b0b07" stroke-width="2" stroke-linecap="round"/>
<line x1="871.64" y1="1062" x2="871.64" y2="1064.9" stroke="#0b0b07" stroke-width="2" stroke-linecap="round"/>
<line x1="879.26" y1="1062" x2="879.26" y2="1064.9" stroke="#0b0b07" stroke-width="2" stroke-linecap="round"/>
<line x1="885.17" y1="1062" x2="885.17" y2="1064.9" stroke="#0b0b07" stroke-width="2" stroke-linecap="round"/>
<line x1="889.99" y1="1062" x2="889.99" y2="1064.9" stroke="#0b0b07" stroke-width="2" stroke-linecap="round"/>
<line x1="894.08" y1="1062" x2="894.08" y2="1064.9" stroke="#0b0b07" stroke-width="2" stroke-linecap="round"/>
<line x1="897.61" y1="1062" x2="897.61" y2="1064.9" stroke="#0b0b07" stroke-width="2" stroke-linecap="round"/>
<line x1="900.73" y1="1062" x2="900.73" y2="1064.9" stroke="#0b0b07" stroke-width="2" stroke-linecap="round"/>
<line x1="903.52" y1="1062" x2="903.52" y2="1069.6" stroke="#0b0b07" stroke-width="2.3" stroke-linecap="round"/>
<line x1="921.87" y1="1062" x2="921.87" y2="1064.9" stroke="#0b0b07" stroke-width="2" stroke-linecap="round"/>
<line x1="932.61" y1="1062" x2="932.61" y2="1064.9" stroke="#0b0b07" stroke-width="2" stroke-linecap="round"/>
<line x1="940.23" y1="1062" x2="940.23" y2="1064.9" stroke="#0b0b07" stroke-width="2" stroke-linecap="round"/>
<line x1="946.14" y1="1062" x2="946.14" y2="1064.9" stroke="#0b0b07" stroke-width="2" stroke-linecap="round"/>
<line x1="950.96" y1="1062" x2="950.96" y2="1064.9" stroke="#0b0b07" stroke-width="2" stroke-linecap="round"/>
<line x1="955.05" y1="1062" x2="955.05" y2="1064.9" stroke="#0b0b07" stroke-width="2" stroke-linecap="round"/>
<line x1="958.58" y1="1062" x2="958.58" y2="1064.9" stroke="#0b0b07" stroke-width="2" stroke-linecap="round"/>
<line x1="961.7" y1="1062" x2="961.7" y2="1064.9" stroke="#0b0b07" stroke-width="2" stroke-linecap="round"/>
<line x1="964.49" y1="1062" x2="964.49" y2="1069.6" stroke="#0b0b07" stroke-width="2.3" stroke-linecap="round"/>
<line x1="982.84" y1="1062" x2="982.84" y2="1064.9" stroke="#0b0b07" stroke-width="2" stroke-linecap="round"/>
<line x1="993.58" y1="1062" x2="993.58" y2="1064.9" stroke="#0b0b07" stroke-width="2" stroke-linecap="round"/>
<line x1="1001.2" y1="1062" x2="1001.2" y2="1064.9" stroke="#0b0b07" stroke-width="2" stroke-linecap="round"/>
<line x1="1007.11" y1="1062" x2="1007.11" y2="1064.9" stroke="#0b0b07" stroke-width="2" stroke-linecap="round"/>
<line x1="1011.93" y1="1062" x2="1011.93" y2="1064.9" stroke="#0b0b07" stroke-width="2" stroke-linecap="round"/>
<line x1="1016.02" y1="1062" x2="1016.02" y2="1064.9" stroke="#0b0b07" stroke-width="2" stroke-linecap="round"/>
<line x1="1019.55" y1="1062" x2="1019.55" y2="1064.9" stroke="#0b0b07" stroke-width="2" stroke-linecap="round"/>
<line x1="1022.67" y1="1062" x2="1022.67" y2="1064.9" stroke="#0b0b07" stroke-width="2" stroke-linecap="round"/>
<line x1="1025.46" y1="1062" x2="1025.46" y2="1069.6" stroke="#0b0b07" stroke-width="2.3" stroke-linecap="round"/>
<line x1="1043.81" y1="1062" x2="1043.81" y2="1064.9" stroke="#0b0b07" stroke-width="2" stroke-linecap="round"/>
<line x1="1054.55" y1="1062" x2="1054.55" y2="1064.9" stroke="#0b0b07" stroke-width="2" stroke-linecap="round"/>
<line x1="1062.17" y1="1062" x2="1062.17" y2="1064.9" stroke="#0b0b07" stroke-width="2" stroke-linecap="round"/>
<line x1="1068.08" y1="1062" x2="1068.08" y2="1064.9" stroke="#0b0b07" stroke-width="2" stroke-linecap="round"/>
<line x1="1072.9" y1="1062" x2="1072.9" y2="1064.9" stroke="#0b0b07" stroke-width="2" stroke-linecap="round"/>
<line x1="1076.99" y1="1062" x2="1076.99" y2="1064.9" stroke="#0b0b07" stroke-width="2" stroke-linecap="round"/>
<line x1="1080.52" y1="1062" x2="1080.52" y2="1064.9" stroke="#0b0b07" stroke-width="2" stroke-linecap="round"/>
<line x1="1083.64" y1="1062" x2="1083.64" y2="1064.9" stroke="#0b0b07" stroke-width="2" stroke-linecap="round"/>
<line x1="1086.43" y1="1062" x2="1086.43" y2="1069.6" stroke="#0b0b07" stroke-width="2.3" stroke-linecap="round"/>
<line x1="1104.78" y1="1062" x2="1104.78" y2="1064.9" stroke="#0b0b07" stroke-width="2" stroke-linecap="round"/>
<line x1="1115.52" y1="1062" x2="1115.52" y2="1064.9" stroke="#0b0b07" stroke-width="2" stroke-linecap="round"/>
<text transform="translate(537.3 1103.5) scale(1.0000 1)" font-family='"Liberation Serif","DejaVu Serif",serif' font-size="30.4" font-weight="bold" text-anchor="middle" fill="#0b0b07">10<tspan font-size="16.5" dy="-14.4" dx="0.9">-4</tspan></text>
<text transform="translate(598.27 1103.5) scale(1.0000 1)" font-family='"Liberation Serif","DejaVu Serif",serif' font-size="30.4" font-weight="bold" text-anchor="middle" fill="#0b0b07">10<tspan font-size="16.5" dy="-14.4" dx="0.9">-3</tspan></text>
<text transform="translate(659.24 1103.5) scale(1.0000 1)" font-family='"Liberation Serif","DejaVu Serif",serif' font-size="30.4" font-weight="bold" text-anchor="middle" fill="#0b0b07">10<tspan font-size="16.5" dy="-14.4" dx="0.9">-2</tspan></text>
<text transform="translate(720.21 1103.5) scale(1.0000 1)" font-family='"Liberation Serif","DejaVu Serif",serif' font-size="30.4" font-weight="bold" text-anchor="middle" fill="#0b0b07">10<tspan font-size="16.5" dy="-14.4" dx="0.9">-1</tspan></text>
<text transform="translate(781.18 1103.5) scale(1.0000 1)" font-family='"Liberation Serif","DejaVu Serif",serif' font-size="30.4" font-weight="bold" text-anchor="middle" fill="#0b0b07">10<tspan font-size="16.5" dy="-14.4" dx="0.9">0</tspan></text>
<text transform="translate(842.15 1103.5) scale(1.0000 1)" font-family='"Liberation Serif","DejaVu Serif",serif' font-size="30.4" font-weight="bold" text-anchor="middle" fill="#0b0b07">10<tspan font-size="16.5" dy="-14.4" dx="0.9">1</tspan></text>
<text transform="translate(903.12 1103.5) scale(1.0000 1)" font-family='"Liberation Serif","DejaVu Serif",serif' font-size="30.4" font-weight="bold" text-anchor="middle" fill="#0b0b07">10<tspan font-size="16.5" dy="-14.4" dx="0.9">2</tspan></text>
<text transform="translate(964.09 1103.5) scale(1.0000 1)" font-family='"Liberation Serif","DejaVu Serif",serif' font-size="30.4" font-weight="bold" text-anchor="middle" fill="#0b0b07">10<tspan font-size="16.5" dy="-14.4" dx="0.9">3</tspan></text>
<text transform="translate(1025.06 1103.5) scale(1.0000 1)" font-family='"Liberation Serif","DejaVu Serif",serif' font-size="30.4" font-weight="bold" text-anchor="middle" fill="#0b0b07">10<tspan font-size="16.5" dy="-14.4" dx="0.9">4</tspan></text>
<text transform="translate(1086.03 1103.5) scale(1.0000 1)" font-family='"Liberation Serif","DejaVu Serif",serif' font-size="30.4" font-weight="bold" text-anchor="middle" fill="#0b0b07">10<tspan font-size="16.5" dy="-14.4" dx="0.9">5</tspan></text>
<text transform="translate(712.2 1147.4) scale(0.9880 1)" font-family='"Liberation Serif","DejaVu Serif",serif' font-size="38" font-weight="bold" text-anchor="start" fill="#0b0b07"><tspan font-style="italic">k</tspan><tspan font-size="23" dy="15.5" dx="-1.2">2</tspan><tspan dy="-15.5" dx="0.6"> (g mg</tspan><tspan font-size="23" dy="-18.5">-1</tspan><tspan dy="18.5"> h</tspan><tspan font-size="23" dy="-18.5">-1</tspan><tspan dy="18.5">)</tspan></text>
<text transform="translate(421 939.5) rotate(-90) scale(0.9790 1)" font-family='"Liberation Serif","DejaVu Serif",serif' font-size="38.5" font-weight="bold" text-anchor="start" fill="#0b0b07">Q<tspan font-size="23" dy="13">m</tspan><tspan dy="-13"> (mg g</tspan><tspan font-size="23" dy="-18.5">-1</tspan><tspan dy="18.5">)</tspan></text>
<circle cx="565.6" cy="991" r="5.7" fill="#3a53a4"/>
<polygon points="636.5,959 650,959 643.2,970.5" fill="#2bbfd0"/>
<rect x="671" y="906.4" width="9.6" height="9.6" fill="#f47b2c"/>
<polygon points="682.3,932 693.5,925.2 693.5,938.9" fill="#8c2224"/>
<polygon points="753.7,1004.4 759.98,1008.96 757.58,1016.34 749.82,1016.34 747.42,1008.96" fill="#0b8151"/>
<polygon points="1042.9,644.3 1044.69,648.53 1049.27,648.93 1045.8,651.94 1046.84,656.42 1042.9,654.05 1038.96,656.42 1040,651.94 1036.53,648.93 1041.11,648.53" fill="#e8383b"/>
<text transform="translate(636.2 898.1) scale(0.9900 1)" font-family='"Liberation Serif","DejaVu Serif",serif' font-size="23" font-weight="bold" text-anchor="start" fill="#0b0b07">SWCNT</text>
<text transform="translate(695.8 939.4) scale(0.9850 1)" font-family='"Liberation Serif","DejaVu Serif",serif' font-size="23" font-weight="bold" text-anchor="start" fill="#0b0b07">UIO-67</text>
<text transform="translate(549.2 968.7) scale(1.0150 1)" font-family='"Liberation Serif","DejaVu Serif",serif' font-size="23" font-weight="bold" text-anchor="start" fill="#0b0b07">MWNTs</text>
<text transform="translate(538.4 1019.1) scale(0.9900 1)" font-family='"Liberation Serif","DejaVu Serif",serif' font-size="23" font-weight="bold" text-anchor="start" fill="#0b0b07">AI400</text>
<text transform="translate(761 1018.1) scale(0.9850 1)" font-family='"Liberation Serif","DejaVu Serif",serif' font-size="23" font-weight="bold" text-anchor="start" fill="#0b0b07">AC</text>
<text transform="translate(958.3 682.6) scale(0.9820 1)" font-family='"Liberation Serif","DejaVu Serif",serif' font-size="21.7" font-weight="bold" text-anchor="start" fill="#e5393b">PAF-1-NDMB</text>
<text transform="translate(382.2 675) scale(0.9550 1)" font-family='"Liberation Sans","DejaVu Sans",sans-serif' font-size="71" font-weight="bold" text-anchor="start" fill="#0b0b07">c</text>
</g>
</g>
</svg></body></html>
